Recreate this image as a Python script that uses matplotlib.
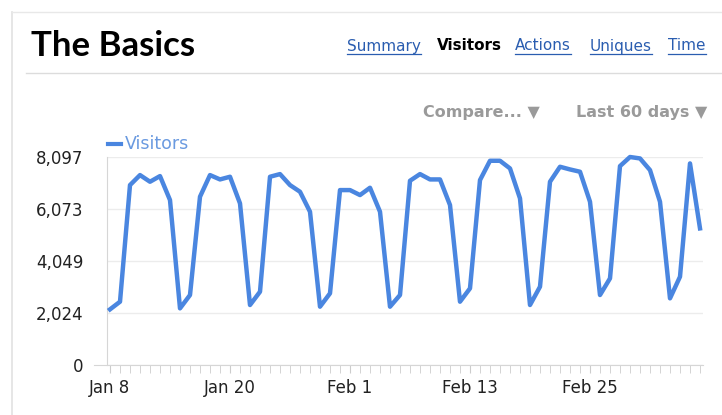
import numpy as np
import pandas as pd
import matplotlib
matplotlib.use("Agg")
import matplotlib.pyplot as plt
from matplotlib.lines import Line2D

# Data: daily visitors for the last 60 days
start_date = "2012-01-08"
visitors = [
    2166, 2464, 7004, 7393, 7134, 7354, 6420, 2205, 2724, 6550,
    7393, 7224, 7328, 6290, 2335, 2853, 7328, 7432, 7004, 6744,
    5966, 2270, 2789, 6809, 6809, 6615, 6900, 5966, 2270, 2724,
    7172, 7432, 7224, 7224, 6226, 2464, 2983, 7198, 7950, 7950,
    7652, 6485, 2335, 3048, 7134, 7717, 7613, 7523, 6355, 2724,
    3372, 7743, 8097, 8041, 7587, 6355, 2594, 3437, 7847, 5318,
]
y_ticks = [0, 2024, 4049, 6073, 8097]
x_tick_labels = ["Jan 8", "Jan 20", "Feb 1", "Feb 13", "Feb 25"]
nav_items = ["Summary", "Visitors", "Actions", "Uniques", "Time"]

dates = pd.date_range(start_date, periods=len(visitors), freq="D")
days = np.arange(len(dates))

W, H = 722, 415
fig = plt.figure(figsize=(W / 100, H / 100), dpi=100)
fig.patch.set_facecolor("white")


def fx(px):
    return px / W


def fy(py):
    return 1 - py / H


# panel border and header separator
fig.add_artist(Line2D([fx(12), fx(12)], [fy(12), fy(415)], color="#e2e2e2", lw=1.2))
fig.add_artist(Line2D([fx(12), fx(722)], [fy(12), fy(12)], color="#e8e8e8", lw=1.0))
fig.add_artist(Line2D([fx(26), fx(722)], [fy(73), fy(73)], color="#dcdcdc", lw=1.0))

# title and nav
fig.text(fx(31), fy(46), "The Basics", fontsize=25, fontweight="bold",
         family=["Lato", "DejaVu Sans"], color="black", va="center", ha="left")

nav_x = [347, 437, 515, 590, 668]
nav_texts = []
for name, px in zip(nav_items, nav_x):
    active = name == "Visitors"
    t = fig.text(fx(px), fy(46), name, fontsize=11,
                 fontweight="bold" if active else "normal",
                 color="black" if active else "#2a5db0", va="center", ha="left")
    nav_texts.append((t, active))

fig.text(fx(540), fy(112), "Compare... \u25bc", fontsize=11.5, fontweight="bold",
         color="#9a9a9a", va="center", ha="right")
fig.text(fx(707), fy(112), "Last 60 days \u25bc", fontsize=11.5, fontweight="bold",
         color="#9a9a9a", va="center", ha="right")

# chart area
ax = fig.add_axes([fx(107), fy(365), fx(703) - fx(107), fy(157) - fy(365)])
ax.plot(days, visitors, color="#4a86e0", lw=3.2, clip_on=False,
        solid_joinstyle="round", label="Visitors", zorder=3)
ax.set_xlim(-0.3, len(days) - 1 + 0.3)
ax.set_ylim(0, y_ticks[-1])

ax.set_yticks(y_ticks)
ax.set_yticklabels([f"{v:,}" for v in y_ticks], fontsize=12, color="#222222")
ax.grid(axis="y", color="#ececec", lw=1)
ax.set_axisbelow(True)

ax.set_xticks(days[::12])
ax.set_xticklabels(x_tick_labels, fontsize=12, color="#222222")
ax.set_xticks(days, minor=True)
ax.tick_params(axis="x", which="both", length=6, color="#cccccc", pad=4)
ax.tick_params(axis="y", length=0, pad=17)

for side in ["top", "right"]:
    ax.spines[side].set_visible(False)
ax.spines["left"].set_color("#d6d6d6")
ax.spines["bottom"].set_color("#d6d6d6")
ax.spines["bottom"].set_bounds(-1.6, len(days) - 1 + 0.3)

# legend-like label above the plot
fig.add_artist(Line2D([fx(108), fx(121)], [fy(144), fy(144)], color="#4a86e0", lw=3))
fig.text(fx(125), fy(144), "Visitors", fontsize=12.5, color="#6a9ae0", va="center",
         ha="left")

# underline the links
fig.canvas.draw()
renderer = fig.canvas.get_renderer()
for t, active in nav_texts:
    if active:
        continue
    bb = t.get_window_extent(renderer)
    yline = bb.y0 - 1
    fig.add_artist(Line2D([bb.x0 / W, bb.x1 / W], [yline / H, yline / H],
                          color="#2a5db0", lw=0.9))

fig.savefig("out.png", dpi=100)
